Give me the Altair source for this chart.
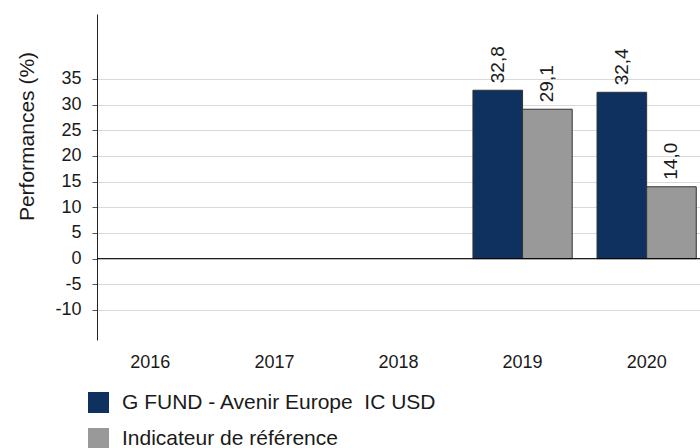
import altair as alt
import pandas as pd

years = ["2016", "2017", "2018", "2019", "2020"]
fund_name = "G FUND - Avenir Europe\u00a0 IC USD"
bench_name = "Indicateur de référence"
fund_values = [None, None, None, 32.8, 32.4]
bench_values = [None, None, None, 29.1, 14.0]
y_ticks = [-10, -5, 0, 5, 10, 15, 20, 25, 30, 35]

rows = []
for yr, f, b in zip(years, fund_values, bench_values):
    rows.append({"year": yr, "series": fund_name, "value": f})
    rows.append({"year": yr, "series": bench_name, "value": b})
df = pd.DataFrame(rows)

FONT = "Liberation Sans"
series_domain = [fund_name, bench_name]
colors = ["#0e3160", "#999999"]

x_scale = alt.Scale(domain=years, paddingInner=0.2, paddingOuter=0.03)
x_axis = alt.Axis(title=None, domain=False, ticks=False, labelAngle=0,
                  labelFontSize=18, labelFont=FONT, labelColor="#1a1a1a",
                  labelPadding=13)
xoff = alt.XOffset("series:N", scale=alt.Scale(domain=series_domain, paddingInner=0, paddingOuter=0))
y_scale = alt.Scale(domain=[-15.85, 47.65], nice=False, zero=False)
y_axis = alt.Axis(values=y_ticks, title="Performances (%)", titleFontSize=21,
                  titleFont=FONT, titleFontWeight="normal", titleColor="#1a1a1a",
                  titleX=-70, titleY=122, titleAngle=-90, titleAlign="center",
                  titleBaseline="middle",
                  labelExpr="'' + datum.value", labelOverlap=False,
                  labelFontSize=18, labelFont=FONT, labelColor="#1a1a1a",
                  labelPadding=11, tickSize=5, tickColor="#555555",
                  domainColor="#222222", gridColor="#d9d9d9", grid=True)

base = alt.Chart(df)

bars = base.mark_bar(stroke="#333333", strokeWidth=1).encode(
    x=alt.X("year:N", scale=x_scale, axis=x_axis),
    xOffset=xoff,
    y=alt.Y("value:Q", scale=y_scale, axis=y_axis),
    y2=alt.datum(0),
    color=alt.Color("series:N", scale=alt.Scale(domain=series_domain, range=colors),
                    legend=alt.Legend(title=None, orient="none", legendX=-9, legendY=378,
                                      symbolType="square", symbolSize=441,
                                      symbolStrokeWidth=0, labelFontSize=21,
                                      labelFont=FONT, labelColor="#1a1a1a",
                                      labelOffset=13, rowPadding=14, padding=0,
                                      labelLimit=600)),
)

labels = base.transform_filter("isValid(datum.value)").transform_calculate(
    label="replace(format(datum.value, '.1f'), '.', ',')"
).mark_text(angle=270, align="left", baseline="middle", dx=7, fontSize=19,
            font=FONT, color="#1a1a1a").encode(
    x=alt.X("year:N", scale=x_scale, axis=x_axis),
    xOffset=xoff,
    y=alt.Y("value:Q", scale=y_scale, axis=y_axis),
    text="label:N",
)

zero = alt.Chart(pd.DataFrame({"v": [0]})).mark_rule(color="#000000", strokeWidth=1).encode(
    y=alt.Y("v:Q", scale=y_scale, axis=y_axis)
)

chart = alt.layer(bars, zero, labels).properties(
    width=603, height=326,
    padding={"left": 97, "top": 14, "right": 0, "bottom": 108},
    autosize=alt.AutoSizeParams(type="none"),
    background="white",
).configure_view(stroke=None)

chart.save("out.html", embed_options={"renderer": "svg", "actions": False})
